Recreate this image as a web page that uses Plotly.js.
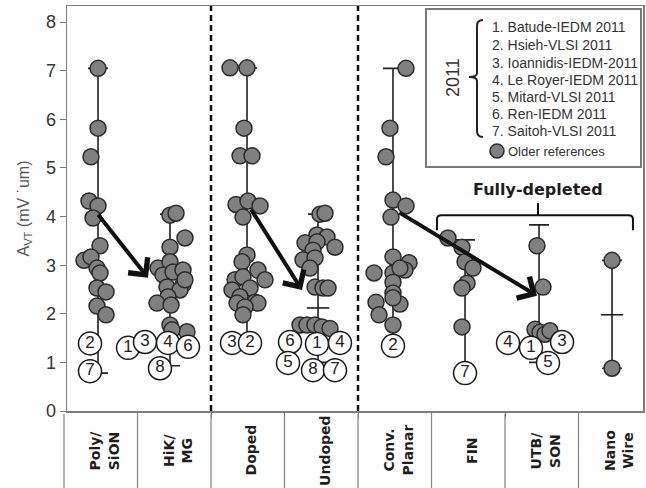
<!DOCTYPE html>
<html><head><meta charset="utf-8">
<script src="https://cdn.plot.ly/plotly-3.0.1.min.js"></script>
<style>html,body{margin:0;padding:0;background:#fff;overflow:hidden}#chart{width:646px;height:488px}</style>
</head><body><div id="chart"></div>
<script>
// ---------- data ----------
const categories = ['Poly/<br>SiON','HiK/<br>MG','Doped','Undoped','Conv.<br>Planar','FIN','UTB/<br>SON','Nano<br>Wire'];
const yTicks = [0,1,2,3,4,5,6,7,8];
const yTitle = 'A<sub>VT</sub> (mV ˙um)';
const groupNote = 'Fully-depleted';
const legendYear = '2011';
const legendEntries = ['1. Batude-IEDM 2011','2. Hsieh-VLSI 2011','3. Ioannidis-IEDM-2011','4. Le Royer-IEDM 2011','5. Mitard-VLSI 2011','6. Ren-IEDM 2011','7. Saitoh-VLSI 2011'];
const legendOlder = 'Older references';

// older references: A_VT values per category and horizontal jitter (fraction of column width)
const olderValues = [
  [7.05,5.82,5.23,4.32,4.22,3.97,3.40,3.10,3.17,2.94,2.84,2.53,2.45,2.16,1.98],
  [4.03,4.07,3.56,3.37,2.94,3.07,2.80,2.86,2.90,2.55,2.60,2.49,2.70,2.35,2.22,2.18,1.77,1.63,1.67],
  [7.06,7.06,5.82,5.25,5.25,4.25,4.32,4.22,3.99,3.21,3.07,2.90,2.70,2.70,2.76,2.49,2.53,2.35,2.24,2.22,2.22,2.14,1.98],
  [4.05,4.07,3.62,3.58,3.37,3.46,3.48,3.31,3.11,3.15,2.94,2.55,2.53,2.53,1.77,1.77,1.77,1.73,1.70],
  [7.05,5.82,5.23,4.34,4.22,3.99,3.17,3.05,2.84,2.84,2.90,2.94,2.65,2.43,2.24,2.20,2.33,1.98,1.77],
  [3.56,3.37,3.07,2.94,2.63,2.53,1.73],
  [3.40,2.55,1.68,1.62,1.58,1.65],
  [3.10,0.88]
];
const olderJitter = [
  [-0.037,-0.037,-0.133,-0.16,-0.037,-0.105,-0.01,-0.228,-0.133,-0.051,-0.01,-0.051,0.072,-0.051,0.072],
  [-0.058,0.024,0.146,-0.058,-0.221,-0.058,-0.153,-0.017,0.119,-0.099,0.119,0.078,0.146,-0.085,-0.235,-0.044,-0.058,0.173,-0.031],
  [-0.241,-0.01,-0.051,-0.105,0.058,-0.16,0.003,0.167,-0.065,-0.01,-0.078,0.139,0.235,-0.173,-0.065,-0.214,0.031,-0.105,0.099,-0.146,0.139,-0.037,-0.065],
  [-0.017,0.051,-0.058,0.078,0.187,-0.221,-0.058,-0.112,-0.248,-0.085,-0.153,-0.085,0.024,0.092,-0.289,-0.194,-0.085,0.01,0.119],
  [0.153,-0.065,-0.119,-0.024,0.153,-0.051,-0.024,0.194,-0.282,-0.024,0.139,0.071,-0.024,-0.024,-0.255,0.071,-0.024,-0.214,-0.024],
  [-0.276,-0.085,-0.044,0.065,-0.017,-0.085,-0.085],
  [-0.065,0.017,-0.092,-0.024,0.044,0.112],
  [-0.044,-0.044]
];

// 2011 references (numbered circles)
const refCat    = [0,0, 1,1,1,1,1, 2,2, 3,3,3,3,3,3, 4, 5, 6,6,6,6];
const refLabel  = ['2','7', '1','3','4','6','8', '3','2', '6','1','4','5','8','7', '2', '7', '4','1','3','5'];
const refValue  = [1.39,0.82, 1.30,1.42,1.40,1.32,0.88, 1.40,1.40, 1.42,1.38,1.40,0.99,0.84,0.84, 1.34, 0.78, 1.40,1.30,1.42,0.99];
const refJitter = [-0.146,-0.146, -0.629,-0.398,-0.085,0.187,-0.194, -0.214,0.031, -0.425,-0.058,0.255,-0.452,-0.112,0.187, -0.024, -0.044, -0.459,-0.146,0.276,0.085];

// range bars per category
const rangeLow   = [0.78,0.93,1.40,1.00,1.30,0.80,1.00,0.88];
const rangeHigh  = [7.05,4.05,7.06,4.05,7.05,3.52,3.83,3.10];
const rangeMid   = [null,null,null,2.12,null,null,null,1.98];
const rangeShift = [-0.037,-0.058,-0.01,-0.044,-0.024,-0.044,-0.037,-0.044];

// ---------- geometry helpers ----------
const W = 646, H = 488;
const M = {l:67, r:3, t:6, b:77};
const pw = W - M.l - M.r, ph = H - M.t - M.b;
const xr = [3/73.5, 579/73.5];
const yr = [0, 8.333];
const PX = p => (p - M.l) / pw;          // pixel -> paper x
const PY = p => (H - M.b - p) / ph;      // pixel -> paper y
const DX = x => (x - xr[0]) / (xr[1] - xr[0]); // data x -> paper x

// ---------- traces ----------
const traces = [];
traces.push({
  type:'scatter', mode:'markers',
  x: rangeHigh.map((v,i)=>i+0.5+rangeShift[i]), y: rangeHigh,
  marker:{size:1, color:'rgba(0,0,0,0)'},
  error_y:{type:'data', symmetric:false, array: rangeHigh.map(()=>0),
           arrayminus: rangeHigh.map((v,i)=>v-rangeLow[i]),
           color:'#222', thickness:1.6, width:10},
  showlegend:false, hoverinfo:'skip'
});
const mx=[], my=[];
rangeMid.forEach((v,i)=>{ if(v!==null){ mx.push(i+0.5+rangeShift[i]); my.push(v);} });
traces.push({
  type:'scatter', mode:'markers', x:mx, y:my,
  marker:{symbol:'line-ew', size:16, line:{width:1.6, color:'#222'}},
  showlegend:false, hoverinfo:'skip'
});
const ox=[], oy=[];
olderValues.forEach((arr,i)=>arr.forEach((v,j)=>{ ox.push(i+0.5+olderJitter[i][j]); oy.push(v); }));
traces.push({
  type:'scatter', mode:'markers', x:ox, y:oy,
  marker:{size:16, color:'#808080', line:{color:'#2b2b2b', width:1.5}},
  showlegend:false, hoverinfo:'skip', cliponaxis:false
});
traces.push({
  type:'scatter', mode:'markers+text',
  x: refCat.map((c,i)=>c+0.5+refJitter[i]), y: refValue, text: refLabel,
  textposition:'middle center',
  textfont:{family:'Liberation Sans, Arial, sans-serif', size:17, color:'#222'},
  marker:{size:23, color:'#ffffff', line:{color:'#1a1a1a', width:1.5}},
  showlegend:false, hoverinfo:'skip', cliponaxis:false
});

// ---------- shapes ----------
const shapes = [];
[2,4].forEach(x=>shapes.push({type:'line', xref:'x', yref:'paper', x0:x, x1:x, y0:0, y1:1,
  line:{color:'#111', width:2.5, dash:'6px,4px'}}));
for(let k=0;k<=8;k++){
  shapes.push({type:'line', xref:'paper', yref:'paper', x0:DX(k), x1:DX(k), y0:PY(414), y1:PY(490),
    line:{color:'#8a8a8a', width:1.3}});
}
// legend box
shapes.push({type:'rect', xref:'paper', yref:'paper', x0:PX(426), x1:PX(641), y0:PY(9), y1:PY(167),
  line:{color:'#7a7a7a', width:2}, fillcolor:'#fff', layer:'above'});
// brace in legend
const bp = `M ${PX(483)},${PY(20)} Q ${PX(477)},${PY(20)} ${PX(477)},${PY(26)} L ${PX(477)},${PY(73)} Q ${PX(477)},${PY(77)} ${PX(469)},${PY(77)} Q ${PX(477)},${PY(77)} ${PX(477)},${PY(81)} L ${PX(477)},${PY(131)} Q ${PX(477)},${PY(137)} ${PX(483)},${PY(137)}`;
shapes.push({type:'path', xref:'paper', yref:'paper', path:bp, line:{color:'#222', width:2}, layer:'above'});
// legend marker
shapes.push({type:'circle', xref:'paper', yref:'paper', xsizemode:'pixel', ysizemode:'pixel',
  xanchor:PX(497), yanchor:PY(151), x0:-7, x1:7, y0:-7, y1:7,
  fillcolor:'#808080', line:{color:'#2b2b2b', width:1.5}, layer:'above'});
// fully-depleted bracket (data coords)
const bx0 = 5.075, bx1 = 7.741, bxc = 6.449, by = 4.03, byEnd = 3.72, byTop = 4.28;
shapes.push({type:'path', xref:'x', yref:'y',
  path:`M ${bx0},${byEnd} L ${bx0},${by-0.08} Q ${bx0},${by} ${bx0+0.06},${by} L ${bx1-0.06},${by} Q ${bx1},${by} ${bx1},${by-0.08} L ${bx1},${byEnd}`,
  line:{color:'#111', width:2}});
shapes.push({type:'line', xref:'x', yref:'y', x0:bxc, x1:bxc, y0:by, y1:byTop, line:{color:'#111', width:2}});

// ---------- annotations ----------
const ann = [];
categories.forEach((c,i)=>ann.push({xref:'x', yref:'paper', x:i+0.55, y:PY(450), text:c, showarrow:false,
  textangle:-90, font:{family:'DejaVu Sans, sans-serif', size:14, color:'#1e1e1e', weight:'bold'},
  align:'center', xanchor:'center', yanchor:'middle'}));
// arrows
const arrows = [[0.449,4.07,1.143,2.74],[2.531,4.18,3.238,2.49],[4.544,4.10,6.435,2.37]];
arrows.forEach(a=>ann.push({xref:'x', yref:'y', axref:'x', ayref:'y', ax:a[0], ay:a[1], x:a[2], y:a[3],
  text:'', showarrow:true, arrowhead:4, arrowsize:1.2, arrowwidth:4, arrowcolor:'#111', standoff:0}));
ann.push({xref:'x', yref:'y', x:bxc, y:4.55, text:groupNote, showarrow:false,
  font:{family:'DejaVu Sans, sans-serif', size:16, color:'#1e1e1e', weight:'bold'}});
// legend texts
const legY = [27,45,63,80,97,114,131];
legendEntries.forEach((t,i)=>ann.push({xref:'paper', yref:'paper', x:PX(490), y:PY(legY[i]), text:t,
  showarrow:false, xanchor:'left', yanchor:'middle',
  font:{family:'Liberation Sans, Arial, sans-serif', size:14, color:'#333'}}));
ann.push({xref:'paper', yref:'paper', x:PX(506), y:PY(151), text:legendOlder, showarrow:false,
  xanchor:'left', yanchor:'middle', font:{family:'Liberation Sans, Arial, sans-serif', size:13, color:'#333'}});
ann.push({xref:'paper', yref:'paper', x:PX(453), y:PY(78), text:legendYear, showarrow:false,
  textangle:-90, xanchor:'center', yanchor:'middle',
  font:{family:'Liberation Sans, Arial, sans-serif', size:18, color:'#333'}});

const layout = {
  width:W, height:H, margin:M,
  paper_bgcolor:'#fff', plot_bgcolor:'#fff', hovermode:false, showlegend:false,
  xaxis:{range:xr, showgrid:false, zeroline:false, showline:true, mirror:true, linecolor:'#7d7d7d', linewidth:1.5,
    ticks:'outside', tickvals:[1,2,3,4,5,6,7], ticklen:5, tickcolor:'#777', showticklabels:false, fixedrange:true},
  yaxis:{range:yr, showgrid:false, zeroline:false, showline:true, mirror:true, linecolor:'#7d7d7d', linewidth:1.5,
    ticks:'outside', tickvals:yTicks, ticktext:yTicks.map(String), ticklen:6, tickcolor:'#777',
    tickfont:{family:'Liberation Sans, Arial, sans-serif', size:18, color:'#333'},
    title:{text:yTitle, font:{family:'Liberation Sans, Arial, sans-serif', size:16, color:'#555'}, standoff:12},
    fixedrange:true},
  shapes:shapes, annotations:ann
};
Plotly.newPlot('chart', traces, layout, {displayModeBar:false, staticPlot:true});
</script></body></html>
